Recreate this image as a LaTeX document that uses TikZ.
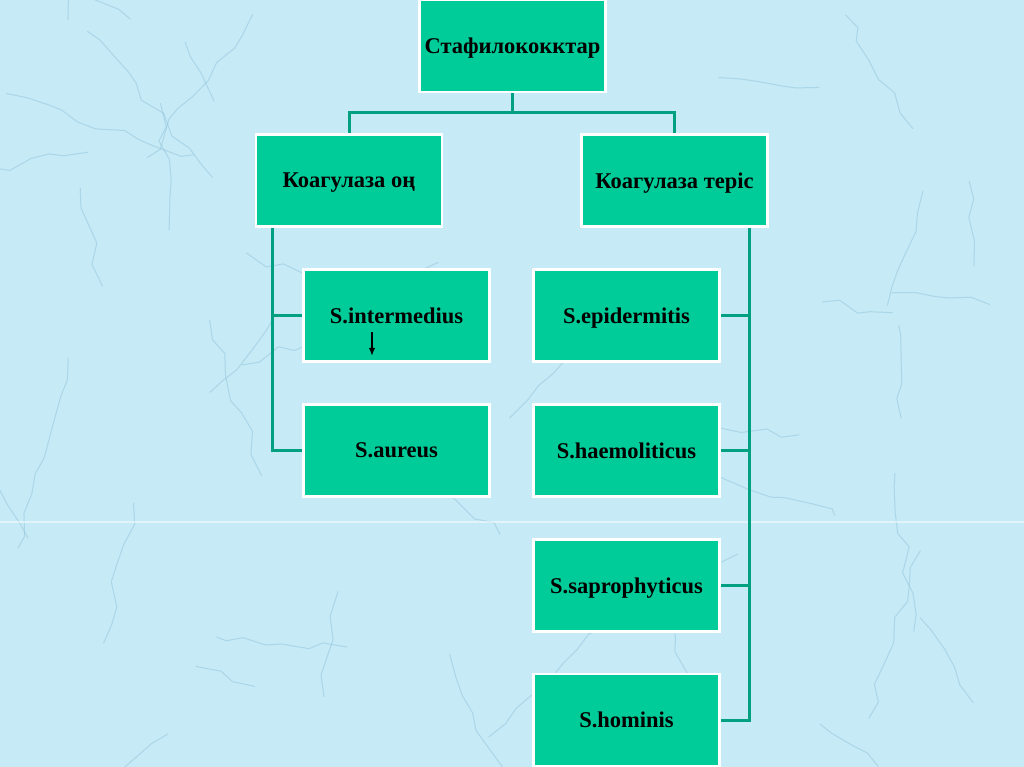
\documentclass[tikz,border=0pt]{standalone}
\usepackage{fontspec}
\setmainfont{Liberation Serif}
\usepackage{tikz}
\usetikzlibrary{arrows.meta,decorations.pathmorphing}
\definecolor{marble}{RGB}{198,234,246}
\definecolor{veincol}{RGB}{140,190,215}
\definecolor{boxfill}{RGB}{0,204,153}
\definecolor{linkcol}{RGB}{0,160,128}
\tikzset{taxon/.style={draw=white,line width=0.07cm,fill=boxfill,minimum width=4.65cm,minimum height=2.3cm,inner sep=0pt,text depth=-0.08cm,font=\fontsize{16pt}{19pt}\selectfont\bfseries},
link/.style={draw=linkcol,line width=0.075cm},
vein/.style={draw=veincol,opacity=0.45,line width=0.025cm,decorate,decoration={random steps,segment length=0.5cm,amplitude=0.15cm}}}

\begin{document}
\begin{tikzpicture}[x=0.025cm,y=-0.025cm]
   \useasboundingbox (0,0) rectangle (1024,767);
   \begin{scope}
   \clip (0,0) rectangle (1024,767);
   \fill[marble] (0,0) rectangle (1024,767);
   \pgfmathsetseed{42}
   \foreach \k in {1,...,40}{
      \pgfmathsetmacro{\vx}{rnd*1024}
      \pgfmathsetmacro{\vy}{rnd*767}
      \pgfmathsetmacro{\va}{rnd*360}
      \pgfmathsetmacro{\vl}{60+rnd*140}
      \draw[vein] (\vx,\vy) -- ++(\va:\vl);
   }
   \draw[white,opacity=0.5,line width=0.03cm] (0,522) -- (1024,522);
   \end{scope}

   \node[taxon] (staph) at (512.5,46) {Стафилококктар};
   \node[taxon] (kpos) at (349,180.5) {Коагулаза оң};
   \node[taxon] (kneg) at (674.5,180.5) {Коагулаза теріс};
   \node[taxon] (inter) at (396.5,315.5) {S.intermedius};
   \node[taxon] (aureus) at (396.5,450.5) {S.aureus};
   \node[taxon] (epid) at (626.5,315.5) {S.epidermitis};
   \node[taxon] (haemo) at (626.5,450.5) {S.haemoliticus};
   \node[taxon] (sapro) at (626.5,585.5) {S.saprophyticus};
   \node[taxon] (homin) at (626.5,720) {S.hominis};

   \coordinate (split) at (512.5,113);
   \draw[link] (staph.south) -- (split);
   \draw[link] (split) -| (kpos.north);
   \draw[link] (split) -| (kneg.north);

   \draw[link] ([xshift=0.45cm]kpos.south west) |- (inter.west);
   \draw[link] ([xshift=0.45cm]kpos.south west) |- (aureus.west);
   \draw[link] ([xshift=-0.475cm]kneg.south east) |- (epid.east);
   \draw[link] ([xshift=-0.475cm]kneg.south east) |- (haemo.east);
   \draw[link] ([xshift=-0.475cm]kneg.south east) |- (sapro.east);
   \draw[link] ([xshift=-0.475cm]kneg.south east) |- (homin.east);

   \coordinate (tipfrom) at (372,332);
   \coordinate (tipto) at (372,356);
   \draw[-{Latex[length=0.2cm,width=0.16cm]},line width=0.045cm] (tipfrom) -- (tipto);
\end{tikzpicture}
\end{document}
